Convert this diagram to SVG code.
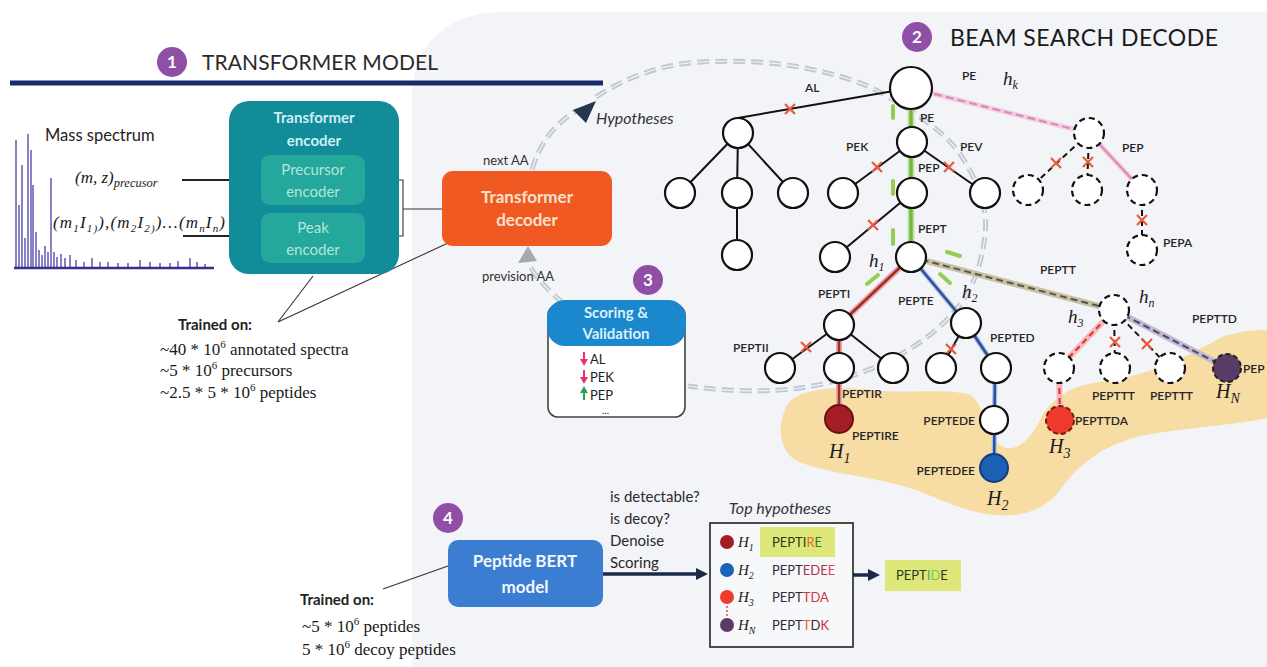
<svg xmlns="http://www.w3.org/2000/svg" width="1267" height="667" viewBox="0 0 1267 667">
<defs>
<style>
.sans{font-family:Lato,"Open Sans","Liberation Sans",sans-serif}
.lbl{font-family:Lato,"Liberation Sans",sans-serif;font-size:12px;font-weight:600;fill:#262626}
.math{font-family:"Liberation Serif","DejaVu Serif",serif;font-style:italic;fill:#1a1a1a}
.serif{font-family:"Liberation Serif","DejaVu Serif",serif;fill:#1a1a1a}
.node{fill:#fff;stroke:#111;stroke-width:2.2}
.dnode{fill:#fff;stroke:#111;stroke-width:2.2;stroke-dasharray:6 4}
.edge{stroke:#111;stroke-width:2;fill:none}
.dedge{stroke:#111;stroke-width:2;fill:none;stroke-dasharray:6 4}
.x{stroke:#ea5a3c;stroke-width:2.2;fill:none}
.badge{fill:#8f4fa6}
.badgeT{font-family:Lato,"Liberation Sans",sans-serif;font-weight:bold;font-size:17px;fill:#fff;text-anchor:middle}
.gdash{stroke:#97cd51;stroke-width:4;stroke-linecap:round;fill:none}
.arcA{fill:none;stroke:#c3c8d0;stroke-width:5;stroke-dasharray:12 6}
.arcB{fill:none;stroke:#f2f4f7;stroke-width:1.2;stroke-dasharray:12 6}
.thin{stroke:#333;stroke-width:1.1;fill:none}
</style>
<path id="xm" d="M-5,-5 L5,5 M-5,5 L5,-5"/>
</defs>

<!-- background panel -->
<rect x="0" y="0" width="1267" height="667" fill="#fff"/>
<path d="M412,667 L412,100 C412,50 440,14 500,12 L1267,12 L1267,667 Z" fill="#f2f4f7"/>

<!-- highlight blob -->
<path d="M785,410 C790,390 830,385 870,390 C910,394 950,388 970,395 C985,405 985,430 1000,445 C1015,455 1030,440 1040,420 C1050,400 1070,385 1100,382 C1150,376 1190,355 1220,338 C1240,330 1255,330 1267,330 L1267,418 C1230,426 1180,428 1140,436 C1095,448 1075,470 1060,490 C1045,510 1020,518 995,515 C960,512 935,495 900,485 C860,475 820,472 795,460 C778,448 778,425 785,410 Z" fill="#f7dca4"/>

<!-- headers -->
<g id="header1">
<circle class="badge" cx="172" cy="62" r="15"/>
<text class="badgeT" x="172" y="68">1</text>
<text class="sans" x="202" y="70" font-size="21" fill="#2a2a2a" textLength="236">TRANSFORMER MODEL</text>
<line x1="10" y1="83" x2="603" y2="83" stroke="#1b2a6b" stroke-width="5"/>
</g>
<g id="header2">
<circle class="badge" cx="917" cy="37" r="15"/>
<text class="badgeT" x="917" y="43">2</text>
<text class="sans" x="950" y="46" font-size="23" fill="#1a1a1a" textLength="268">BEAM SEARCH DECODE</text>
</g>

<!-- mass spectrum -->
<g id="spectrum">
<text class="sans" x="45" y="141" font-size="16.5" fill="#222">Mass spectrum</text>
<path d="M16,268V140 M19,268V205 M22,268V165 M25,268V238 M28,268V134 M31,268V150 M33,268V185 M36,268V232 M39,268V250 M42,268V255 M45,268V246 M48,268V252 M51,268V178 M54,268V252 M57,268V257 M61,268V254 M65,268V258 M70,268V255 M76,268V260 M84,268V262 M92,268V258 M100,268V262 M108,268V262 M118,268V263 M128,268V263 M140,268V260 M150,268V262 M160,268V263 M170,268V263 M178,268V261 M190,268V258 M197,268V262 M205,268V264" stroke="#4b3fa8" stroke-width="1.3"/>
<line x1="14" y1="268" x2="214" y2="268" stroke="#3a2f8f" stroke-width="2.5"/>
<text class="math" x="75" y="183" font-size="17">(m, z)<tspan dy="4" font-size="12.5">precusor</tspan></text>
<text class="math" x="53" y="228" font-size="17" textLength="172">(m<tspan dy="4" font-size="11">1</tspan><tspan dy="-4">I</tspan><tspan dy="4" font-size="11">1)</tspan><tspan dy="-4">),(m</tspan><tspan dy="4" font-size="11">2</tspan><tspan dy="-4">I</tspan><tspan dy="4" font-size="11">2)</tspan><tspan dy="-4">)…(m</tspan><tspan dy="4" font-size="11">n</tspan><tspan dy="-4">I</tspan><tspan dy="4" font-size="11">n</tspan><tspan dy="-4">)</tspan></text>
</g>

<!-- connectors -->
<g id="connectors">
<path class="arcA" d="M596,97 C630,75 665,64 700,62 C740,60 775,62 805,68 C840,75 865,83 885,95 C920,115 948,135 962,157 C980,185 988,210 985,235 C982,262 975,283 962,302 C945,325 925,340 903,353 C870,372 835,383 800,388 C770,392 730,392 688,386"/>
<path class="arcB" d="M596,97 C630,75 665,64 700,62 C740,60 775,62 805,68 C840,75 865,83 885,95 C920,115 948,135 962,157 C980,185 988,210 985,235 C982,262 975,283 962,302 C945,325 925,340 903,353 C870,372 835,383 800,388 C770,392 730,392 688,386"/>
<path class="arcA" d="M532,170 C540,142 556,122 578,110"/>
<path class="arcB" d="M532,170 C540,142 556,122 578,110"/>
<polygon points="596,101 573,110 586,123" fill="#243650"/>
<path class="arcA" d="M563,303 C548,290 534,276 528,262"/>
<path class="arcB" d="M563,303 C548,290 534,276 528,262"/>
<polygon points="528,246 518,263 537,261" fill="#a3aab5"/>

<line x1="182" y1="180" x2="262" y2="180" stroke="#222" stroke-width="2"/>
<line x1="183" y1="236" x2="262" y2="236" stroke="#222" stroke-width="2"/>
<polyline class="thin" points="365,180 403,180 403,236 365,236"/>
<line class="thin" x1="403" y1="209" x2="443" y2="209"/>
<line class="thin" x1="278" y1="322" x2="313" y2="276"/>
<line class="thin" x1="278" y1="322" x2="448" y2="243"/>
<line class="thin" x1="448" y1="566" x2="383" y2="589"/>

<line x1="603" y1="574" x2="698" y2="574" stroke="#1b2a4a" stroke-width="3.5"/>
<polygon points="708,574 696,568 696,580" fill="#1b2a4a"/>
<line x1="853" y1="575" x2="870" y2="575" stroke="#1b2a4a" stroke-width="3.5"/>
<polygon points="880,575 868,569 868,581" fill="#1b2a4a"/>

<line class="edge" x1="911" y1="88" x2="738" y2="118"/>
<line class="edge" x1="738" y1="133" x2="680" y2="193"/>
<line class="edge" x1="738" y1="133" x2="737" y2="193"/>
<line class="edge" x1="738" y1="133" x2="793" y2="193"/>
<line class="edge" x1="737" y1="193" x2="737" y2="255"/>
<line class="edge" x1="912" y1="142" x2="843" y2="193"/>
<line class="edge" x1="912" y1="142" x2="985" y2="193"/>
<line class="edge" x1="912" y1="193" x2="835" y2="257"/>
<line x1="911" y1="100" x2="911" y2="250" stroke="#c6e3a6" stroke-width="7"/>
<line x1="911" y1="100" x2="911" y2="250" stroke="#72b83c" stroke-width="3.5"/>
<line x1="911" y1="257" x2="839" y2="325" stroke="#e8a8a8" stroke-width="6"/>
<line x1="911" y1="257" x2="839" y2="325" stroke="#a52a2a" stroke-width="2.5"/>
<line x1="911" y1="257" x2="966" y2="323" stroke="#a9c0e2" stroke-width="5"/>
<line x1="911" y1="257" x2="966" y2="323" stroke="#2b4f9e" stroke-width="2.5"/>
<line x1="911" y1="257" x2="1114" y2="310" stroke="#c9c2a2" stroke-width="6"/>
<line x1="911" y1="257" x2="1114" y2="310" stroke="#555" stroke-width="2" stroke-dasharray="7 4"/>
<line class="edge" x1="839" y1="325" x2="780" y2="368"/>
<line class="edge" x1="839" y1="325" x2="893" y2="368"/>
<line x1="839" y1="325" x2="839" y2="419" stroke="#e8a8a8" stroke-width="6"/>
<line x1="839" y1="325" x2="839" y2="419" stroke="#a52a2a" stroke-width="2.5"/>
<line class="edge" x1="966" y1="323" x2="941" y2="368"/>
<line x1="966" y1="323" x2="996" y2="368" stroke="#a9c0e2" stroke-width="5"/>
<line x1="966" y1="323" x2="996" y2="368" stroke="#2b4f9e" stroke-width="2.5"/>
<line x1="995" y1="368" x2="994" y2="468" stroke="#a9c0e2" stroke-width="5"/>
<line x1="995" y1="368" x2="994" y2="468" stroke="#2b4f9e" stroke-width="2.5"/>
<line x1="911" y1="88" x2="1089" y2="133" stroke="#f5cde3" stroke-width="5"/>
<line x1="911" y1="88" x2="1089" y2="133" stroke="#d98ab9" stroke-width="2.2" stroke-dasharray="8 4"/>
<line class="dedge" x1="1089" y1="133" x2="1028" y2="190"/>
<line class="dedge" x1="1089" y1="133" x2="1087" y2="190"/>
<line x1="1089" y1="133" x2="1142" y2="190" stroke="#f5cde3" stroke-width="5"/>
<line x1="1089" y1="133" x2="1142" y2="190" stroke="#d98ab9" stroke-width="2.2"/>
<line class="dedge" x1="1142" y1="190" x2="1142" y2="250"/>
<line x1="1114" y1="310" x2="1059" y2="368" stroke="#f6b9b9" stroke-width="6"/>
<line x1="1114" y1="310" x2="1059" y2="368" stroke="#e03030" stroke-width="2" stroke-dasharray="6 4"/>
<line class="dedge" x1="1114" y1="310" x2="1115" y2="368"/>
<line class="dedge" x1="1114" y1="310" x2="1170" y2="368"/>
<line x1="1114" y1="310" x2="1227" y2="368" stroke="#c4b6d6" stroke-width="6"/>
<line x1="1114" y1="310" x2="1227" y2="368" stroke="#4a4a55" stroke-width="2" stroke-dasharray="7 4"/>
<line x1="1059" y1="368" x2="1060" y2="420" stroke="#f6b9b9" stroke-width="6"/>
<line x1="1059" y1="368" x2="1060" y2="420" stroke="#e03030" stroke-width="2" stroke-dasharray="6 4"/>

<line class="gdash" x1="893" y1="106" x2="893" y2="118"/>
<line class="gdash" x1="893" y1="181" x2="893" y2="194"/>
<line class="gdash" x1="893" y1="230" x2="893" y2="244"/>
<line class="gdash" x1="867" y1="284" x2="878" y2="275"/>
<line class="gdash" x1="940" y1="274" x2="950" y2="283"/>
<line class="gdash" x1="947" y1="252" x2="960" y2="256"/>

<use href="#xm" class="x" x="790" y="109"/>
<use href="#xm" class="x" x="877" y="167"/>
<use href="#xm" class="x" x="949" y="167"/>
<use href="#xm" class="x" x="873" y="225"/>
<use href="#xm" class="x" x="806" y="347"/>
<use href="#xm" class="x" x="951" y="349"/>
<use href="#xm" class="x" x="1056" y="163"/>
<use href="#xm" class="x" x="1088" y="162"/>
<use href="#xm" class="x" x="1142" y="220"/>
<use href="#xm" class="x" x="1115" y="342"/>
<use href="#xm" class="x" x="1147" y="344"/>
</g>

<g id="encoder">
<rect x="229" y="101" width="170" height="173" rx="20" fill="#138c9a"/>
<text class="sans" x="314" y="123" font-size="15" font-weight="bold" fill="#cdeff2" text-anchor="middle">Transformer</text>
<text class="sans" x="314" y="146" font-size="15" font-weight="bold" fill="#cdeff2" text-anchor="middle">encoder</text>
</g>
<g id="precursor-encoder">
<rect x="261" y="155" width="104" height="50" rx="9" fill="#23a89b"/>
<text class="sans" x="313" y="175" font-size="15" fill="#b4e4dc" text-anchor="middle">Precursor</text>
<text class="sans" x="313" y="197" font-size="15" fill="#b4e4dc" text-anchor="middle">encoder</text>
</g>
<g id="peak-encoder">
<rect x="261" y="213" width="104" height="50" rx="9" fill="#23a89b"/>
<text class="sans" x="313" y="233" font-size="15" fill="#b4e4dc" text-anchor="middle">Peak</text>
<text class="sans" x="313" y="255" font-size="15" fill="#b4e4dc" text-anchor="middle">encoder</text>
</g>

<g id="decoder">
<rect x="442" y="171" width="170" height="75" rx="11" fill="#f05a22"/>
<text class="sans" x="527" y="203" font-size="17" font-weight="bold" fill="#fbe2cc" text-anchor="middle">Transformer</text>
<text class="sans" x="527" y="226" font-size="17" font-weight="bold" fill="#fbe2cc" text-anchor="middle">decoder</text>
<text class="sans" x="483" y="165" font-size="13" fill="#333">next AA</text>
<text class="sans" x="482" y="281" font-size="13" fill="#333">prevision AA</text>
<text class="sans" x="596" y="124" font-size="16" font-style="italic" fill="#333">Hypotheses</text>
</g>

<g id="train1">
<text class="sans" x="178" y="330" font-size="15" font-weight="bold" fill="#222">Trained on:</text>
<text class="serif" x="160" y="355" font-size="17">~40 * 10<tspan dy="-7" font-size="11">6</tspan><tspan dy="7"> annotated spectra</tspan></text>
<text class="serif" x="160" y="376" font-size="17">~5 * 10<tspan dy="-7" font-size="11">6</tspan><tspan dy="7"> precursors</tspan></text>
<text class="serif" x="160" y="398" font-size="17">~2.5 * 5 * 10<tspan dy="-7" font-size="11">6</tspan><tspan dy="7">  peptides</tspan></text>
</g>

<g id="scoring">
<circle class="badge" cx="648" cy="280" r="15"/>
<text class="badgeT" x="648" y="286">3</text>
<rect x="548" y="305" width="137" height="112" rx="10" fill="#fff" stroke="#444" stroke-width="1.6"/>
<rect x="547" y="300" width="139" height="46" rx="18" fill="#1b87cc"/>
<text class="sans" x="616" y="318" font-size="15" font-weight="bold" fill="#d9f0fb" text-anchor="middle">Scoring &amp;</text>
<text class="sans" x="616" y="339" font-size="15" font-weight="bold" fill="#d9f0fb" text-anchor="middle">Validation</text>
<line x1="584" y1="352" x2="584" y2="360" stroke="#e8336d" stroke-width="2"/>
<polygon points="580,359 588,359 584,366" fill="#e8336d"/>
<line x1="584" y1="370" x2="584" y2="378" stroke="#e8336d" stroke-width="2"/>
<polygon points="580,377 588,377 584,384" fill="#e8336d"/>
<line x1="584" y1="400" x2="584" y2="392" stroke="#2e9e5b" stroke-width="2"/>
<polygon points="580,393 588,393 584,386" fill="#2e9e5b"/>
<text class="sans" x="590" y="364" font-size="13" fill="#222">AL</text>
<text class="sans" x="590" y="382" font-size="13" fill="#222">PEK</text>
<text class="sans" x="590" y="400" font-size="13" fill="#222">PEP</text>
<text class="sans" x="602" y="414" font-size="10" fill="#222">...</text>
</g>

<g id="bert">
<circle class="badge" cx="448" cy="518" r="15"/>
<text class="badgeT" x="448" y="524">4</text>
<rect x="448" y="540" width="155" height="67" rx="10" fill="#3b7dd0"/>
<text class="sans" x="525" y="567" font-size="17" font-weight="bold" fill="#f2f7ff" text-anchor="middle">Peptide BERT</text>
<text class="sans" x="525" y="593" font-size="17" font-weight="bold" fill="#f2f7ff" text-anchor="middle">model</text>
<text class="sans" x="610" y="502" font-size="15" fill="#2a2a2a">is detectable?</text>
<text class="sans" x="610" y="524" font-size="15" fill="#2a2a2a">is decoy?</text>
<text class="sans" x="610" y="546" font-size="15" fill="#2a2a2a">Denoise</text>
<text class="sans" x="610" y="568" font-size="15" fill="#2a2a2a">Scoring</text>
</g>
<g id="train2">
<text class="sans" x="300" y="605" font-size="15" font-weight="bold" fill="#222">Trained on:</text>
<text class="serif" x="302" y="632" font-size="17">~5 * 10<tspan dy="-7" font-size="11">6</tspan><tspan dy="7"> peptides</tspan></text>
<text class="serif" x="302" y="655" font-size="17">5 * 10<tspan dy="-7" font-size="11">6</tspan><tspan dy="7"> decoy peptides</tspan></text>
</g>

<g id="top-hypotheses">
<text class="sans" x="780" y="514" font-size="16" font-style="italic" fill="#333" text-anchor="middle">Top hypotheses</text>
<rect x="710" y="523" width="143" height="124" fill="#f7f8fa" stroke="#222" stroke-width="1.6"/>
<rect x="760" y="527" width="75" height="30" fill="#dde77a"/>
<circle cx="727" cy="542" r="7" fill="#a31d24"/>
<circle cx="727" cy="570" r="7" fill="#1d62b8"/>
<circle cx="727" cy="597" r="7" fill="#f03c2c"/>
<circle cx="727" cy="625" r="7" fill="#5a3a66"/>
<line x1="727" y1="606" x2="727" y2="616" stroke="#e05050" stroke-width="1.5" stroke-dasharray="2 2"/>
<text class="math" x="738" y="547" font-size="15">H<tspan dy="4" font-size="10">1</tspan></text>
<text class="math" x="738" y="575" font-size="15">H<tspan dy="4" font-size="10">2</tspan></text>
<text class="math" x="738" y="602" font-size="15">H<tspan dy="4" font-size="10">3</tspan></text>
<text class="math" x="738" y="630" font-size="15">H<tspan dy="4" font-size="10">N</tspan></text>
<text class="sans" x="772" y="547" font-size="13" fill="#2e3a1c">PEPTI<tspan fill="#e36c2b">R</tspan><tspan fill="#3c7a2a">E</tspan></text>
<text class="sans" x="772" y="575" font-size="13" fill="#2d2d3a">PEPT<tspan fill="#a8324a">EDE</tspan><tspan fill="#e8405a">E</tspan></text>
<text class="sans" x="772" y="602" font-size="13" fill="#2d2d3a">PEPT<tspan fill="#d23a3a">TDA</tspan></text>
<text class="sans" x="772" y="630" font-size="13" fill="#2d2d3a">PEPT<tspan fill="#e0602a">T</tspan>D<tspan fill="#d03040">K</tspan></text>
</g>
<g id="result">
<rect x="885" y="560" width="76" height="31" fill="#dde77a"/>
<text class="sans" x="896" y="580" font-size="13" fill="#2d3a1e">PEPT<tspan fill="#4caf50">I</tspan><tspan fill="#8bc34a">D</tspan>E</text>
</g>

<g id="n-root"><circle class="node" cx="911" cy="88" r="21" stroke-width="2.6"/></g>
<g id="n-al"><circle class="node" cx="738" cy="133" r="15"/></g>
<g id="n-al1"><circle class="node" cx="680" cy="193" r="15"/></g>
<g id="n-al2"><circle class="node" cx="737" cy="193" r="15"/></g>
<g id="n-al3"><circle class="node" cx="793" cy="193" r="15"/></g>
<g id="n-al21"><circle class="node" cx="737" cy="255" r="15"/></g>
<g id="n-pe"><circle class="node" cx="912" cy="142" r="15"/></g>
<g id="n-pek"><circle class="node" cx="843" cy="193" r="15"/></g>
<g id="n-pep"><circle class="node" cx="912" cy="193" r="15"/></g>
<g id="n-pev"><circle class="node" cx="985" cy="193" r="15"/></g>
<g id="n-pepx"><circle class="node" cx="835" cy="257" r="15"/></g>
<g id="n-h1"><circle class="node" cx="911" cy="257" r="15"/></g>
<g id="n-pepti"><circle class="node" cx="839" cy="325" r="15"/></g>
<g id="n-pepte"><circle class="node" cx="966" cy="323" r="15"/></g>
<g id="n-peptii"><circle class="node" cx="780" cy="368" r="15"/></g>
<g id="n-peptir"><circle class="node" cx="839" cy="368" r="15"/></g>
<g id="n-pepti3"><circle class="node" cx="893" cy="368" r="15"/></g>
<g id="n-pepte1"><circle class="node" cx="941" cy="368" r="15"/></g>
<g id="n-pepted"><circle class="node" cx="996" cy="368" r="15"/></g>
<g id="n-H1"><circle cx="839" cy="419" r="14" fill="#a31d24" stroke="#6b1010" stroke-width="2"/></g>
<g id="n-peptede"><circle class="node" cx="994" cy="420" r="14"/></g>
<g id="n-H2"><circle cx="994" cy="468" r="14" fill="#1d5fb5" stroke="#123c7a" stroke-width="2"/></g>
<g id="n-hk"><circle class="dnode" cx="1089" cy="133" r="15"/></g>
<g id="n-hk1"><circle class="dnode" cx="1028" cy="190" r="15"/></g>
<g id="n-hk2"><circle class="dnode" cx="1087" cy="190" r="15"/></g>
<g id="n-hk3"><circle class="dnode" cx="1142" cy="190" r="15"/></g>
<g id="n-pepa"><circle class="dnode" cx="1142" cy="250" r="15"/></g>
<g id="n-hn"><circle class="dnode" cx="1114" cy="310" r="15"/></g>
<g id="n-h3"><circle class="dnode" cx="1059" cy="368" r="15"/></g>
<g id="n-hn2"><circle class="dnode" cx="1115" cy="368" r="15"/></g>
<g id="n-hn3"><circle class="dnode" cx="1170" cy="368" r="15"/></g>
<g id="n-HN"><circle cx="1227" cy="368" r="14" fill="#5a3a66" stroke="#222" stroke-width="2" stroke-dasharray="5 3"/></g>
<g id="n-H3"><circle cx="1060" cy="420" r="14" fill="#ee3a2c" stroke="#7a1a10" stroke-width="2" stroke-dasharray="5 3"/></g>

<g id="tree-labels">
<text class="lbl" x="805" y="92">AL</text>
<text class="lbl" x="962" y="80">PE</text>
<text class="lbl" x="920" y="122">PE</text>
<text class="lbl" x="846" y="151">PEK</text>
<text class="lbl" x="960" y="151">PEV</text>
<text class="lbl" x="918" y="172">PEP</text>
<text class="lbl" x="918" y="233">PEPT</text>
<text class="lbl" x="818" y="298">PEPTI</text>
<text class="lbl" x="898" y="305">PEPTE</text>
<text class="lbl" x="990" y="342">PEPTED</text>
<text class="lbl" x="733" y="352">PEPTII</text>
<text class="lbl" x="842" y="398">PEPTIR</text>
<text class="lbl" x="852" y="440">PEPTIRE</text>
<text class="lbl" x="975" y="425" text-anchor="end">PEPTEDE</text>
<text class="lbl" x="975" y="475" text-anchor="end">PEPTEDEE</text>
<text class="lbl" x="1122" y="152">PEP</text>
<text class="lbl" x="1163" y="247">PEPA</text>
<text class="lbl" x="1040" y="274">PEPTT</text>
<text class="lbl" x="1192" y="323">PEPTTD</text>
<text class="lbl" x="1092" y="400">PEPTTT</text>
<text class="lbl" x="1150" y="400">PEPTTT</text>
<text class="lbl" x="1075" y="425">PEPTTDA</text>
<text class="lbl" x="1243" y="373">PEP</text>
<text class="math" x="1003" y="85" font-size="19">h<tspan dy="4" font-size="12">k</tspan></text>
<text class="math" x="869" y="267" font-size="19">h<tspan dy="4" font-size="12">1</tspan></text>
<text class="math" x="962" y="298" font-size="19">h<tspan dy="4" font-size="12">2</tspan></text>
<text class="math" x="1139" y="303" font-size="19">h<tspan dy="4" font-size="12">n</tspan></text>
<text class="math" x="1068" y="323" font-size="19">h<tspan dy="4" font-size="12">3</tspan></text>
<text class="math" x="829" y="458" font-size="20">H<tspan dy="5" font-size="14">1</tspan></text>
<text class="math" x="987" y="505" font-size="20">H<tspan dy="5" font-size="14">2</tspan></text>
<text class="math" x="1049" y="453" font-size="20">H<tspan dy="5" font-size="14">3</tspan></text>
<text class="math" x="1216" y="398" font-size="20">H<tspan dy="5" font-size="14">N</tspan></text>
</g>
</svg>
